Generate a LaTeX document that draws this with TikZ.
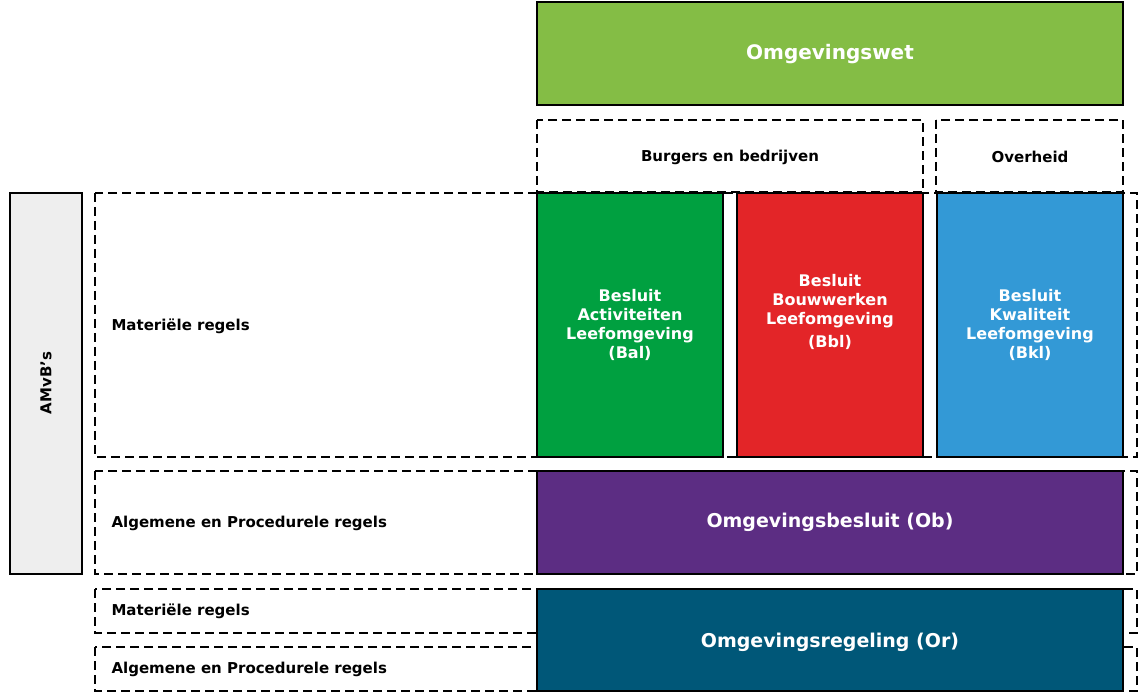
\documentclass[tikz,border=0pt]{standalone}
\usepackage{fontspec}
\setmainfont{DejaVu Sans}
\definecolor{cOw}{HTML}{84BD45}
\definecolor{cBal}{HTML}{00A040}
\definecolor{cBbl}{HTML}{E32528}
\definecolor{cBkl}{HTML}{3399D6}
\definecolor{cOb}{HTML}{5C2D83}
\definecolor{cOr}{HTML}{005778}
\definecolor{cGrey}{HTML}{EEEEEE}
\begin{document}
\begin{tikzpicture}[x=1pt,y=-1pt,
  dbox/.style={draw=black,dashed,dash pattern=on 9pt off 5pt,line width=1.3pt},
  fbox/.style={draw=black,line width=1.3pt},
  wtxt/.style={text=white,font=\bfseries\fontsize{16}{19}\selectfont,align=center},
  btxt/.style={text=black,font=\bfseries\fontsize{15}{18}\selectfont,anchor=west}]
\useasboundingbox (0,0) rectangle (1146,700);
% dashed rows
\draw[dbox] (95,193) rectangle (1137,457);
\draw[dbox] (95,471) rectangle (1137,574);
\draw[dbox] (95,589) rectangle (1137,633);
\draw[dbox] (95,647) rectangle (1137,691);
\draw[dbox] (537,120) rectangle (923,192);
\draw[dbox] (936,120) rectangle (1123,192);
\node[btxt,anchor=center] (bb) at (730,157) {Burgers en bedrijven};
\node[btxt,anchor=center] (ov) at (1030,157) {Overheid};
% filled boxes
\draw[fbox,fill=cOw] (537,2) rectangle (1123,105);
\node[wtxt,font=\bfseries\fontsize{20}{24}\selectfont] (ow) at (830,54) {Omgevingswet};
\draw[fbox,fill=cGrey] (10,193) rectangle (82,574);
\node[btxt,anchor=center,rotate=90] (am) at (46,383) {AMvB's};
\draw[fbox,fill=cBal] (537,193) rectangle (723,457);
\draw[fbox,fill=cBbl] (737,193) rectangle (923,457);
\draw[fbox,fill=cBkl] (937,193) rectangle (1123,457);
\node[wtxt] (bal) at (630,325) {Besluit\\Activiteiten\\Leefomgeving\\(Bal)};
\node[wtxt] (bbl) at (830,312) {Besluit\\Bouwwerken\\Leefomgeving\\[4pt](Bbl)};
\node[wtxt] (bkl) at (1030,325) {Besluit\\Kwaliteit\\Leefomgeving\\(Bkl)};
\draw[fbox,fill=cOb] (537,471) rectangle (1123,574);
\node[wtxt,font=\bfseries\fontsize{19}{23}\selectfont] (ob) at (830,522) {Omgevingsbesluit (Ob)};
\draw[fbox,fill=cOr] (537,589) rectangle (1123,691);
\node[wtxt,font=\bfseries\fontsize{19}{23}\selectfont] (or) at (830,642) {Omgevingsregeling (Or)};
% labels
\node[btxt] (m1) at (108,326) {Materiële regels};
\node[btxt] (a1) at (108,523) {Algemene en Procedurele regels};
\node[btxt] (m2) at (108,611) {Materiële regels};
\node[btxt] (a2) at (108,669) {Algemene en Procedurele regels};
\end{tikzpicture}
\end{document}
